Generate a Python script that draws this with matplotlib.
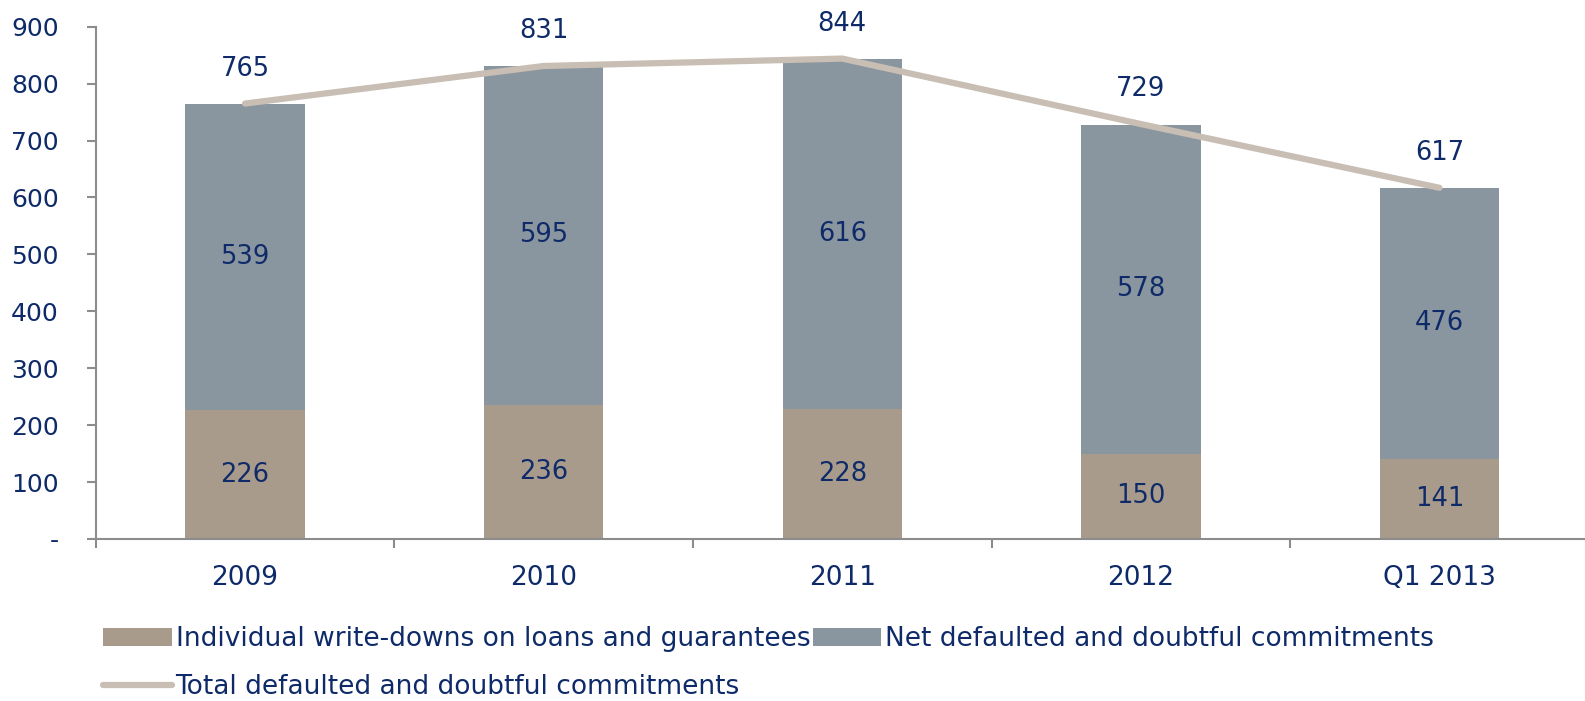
import matplotlib.pyplot as plt
import numpy as np
from matplotlib.patches import Patch
from matplotlib.lines import Line2D

categories = ["2009", "2010", "2011", "2012", "Q1 2013"]
write_downs = [226, 236, 228, 150, 141]
net_defaulted = [539, 595, 616, 578, 476]
total_defaulted = [765, 831, 844, 729, 617]
y_ticks = [0, 100, 200, 300, 400, 500, 600, 700, 800, 900]
y_tick_labels = ["-", "100", "200", "300", "400", "500", "600", "700", "800", "900"]

navy = "#0E2A69"
brown = "#A89B8C"
slate = "#8A969F"
sand = "#C9BEB3"
axis_gray = "#8C8C8C"

plt.rcParams["font.family"] = ["DejaVu Sans"]

fig = plt.figure(figsize=(15.85, 7.01), dpi=100)
ax = fig.add_axes([0.0604, 0.2311, 0.942, 0.7308])

x = np.arange(len(categories))
w = 0.40
ax.bar(x, write_downs, w, color=brown, zorder=2)
ax.bar(x, net_defaulted, w, bottom=write_downs, color=slate, zorder=2)
ax.plot(x, total_defaulted, color=sand, lw=4.5, solid_capstyle="round", zorder=3)

# segment labels in the middle of each stack part
for i in range(len(categories)):
    ax.text(x[i], write_downs[i] / 2, str(write_downs[i]), ha="center", va="center",
            fontsize=18.5, color=navy, zorder=4)
    ax.text(x[i], write_downs[i] + net_defaulted[i] / 2, str(net_defaulted[i]),
            ha="center", va="center", fontsize=18.5, color=navy, zorder=4)
    ax.annotate(str(total_defaulted[i]), (x[i], total_defaulted[i]), xytext=(0, 25),
                textcoords="offset points", ha="center", va="center",
                fontsize=18.5, color=navy, zorder=4)

ax.set_xlim(-0.5, 4.5)
ax.set_ylim(0, 900)
ax.set_yticks(y_ticks)
ax.set_yticklabels(y_tick_labels)
ax.set_xticks(x)
ax.set_xticklabels(categories)
ax.set_xticks(np.arange(-0.5, 5.0, 1.0), minor=True)

for side in ["top", "right"]:
    ax.spines[side].set_visible(False)
for side in ["left", "bottom"]:
    ax.spines[side].set_color(axis_gray)
    ax.spines[side].set_linewidth(1.5)

ax.tick_params(axis="y", length=6.5, width=1.5, color=axis_gray, pad=20,
               labelsize=18, labelcolor=navy)
ax.tick_params(axis="x", which="major", length=0, pad=19, labelsize=19, labelcolor=navy)
ax.tick_params(axis="x", which="minor", length=6.5, width=1.5, color=axis_gray)

handles = [
    Patch(facecolor=brown, label="Individual write-downs on loans and guarantees"),
    Line2D([0], [0], color=sand, lw=4.5, solid_capstyle="round",
           label="Total defaulted and doubtful commitments"),
    Patch(facecolor=slate, label="Net defaulted and doubtful commitments"),
]
leg = fig.legend(handles=handles, ncol=2, loc="upper left", bbox_to_anchor=(0.065, 0.107),
                 frameon=False, fontsize=19, handlelength=2.6, handleheight=0.7,
                 handletextpad=0.15, columnspacing=0.1, labelspacing=0.85,
                 borderaxespad=0, borderpad=0)
for t in leg.get_texts():
    t.set_color(navy)

fig.savefig("out.png", dpi=100)
